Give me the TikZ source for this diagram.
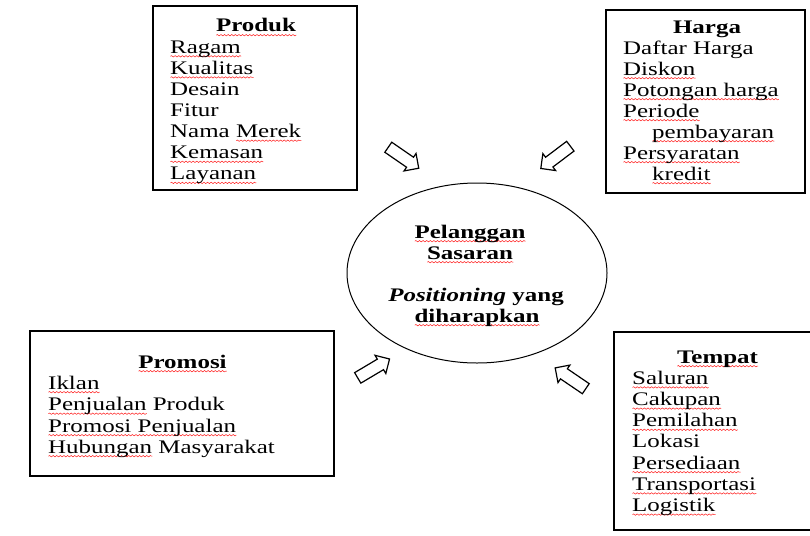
\documentclass[tikz,border=0pt]{standalone}
\usepackage{fontspec}
\setmainfont{Liberation Serif}[FakeStretch=1.3]
\usetikzlibrary{shapes.geometric,shapes.arrows,decorations.pathmorphing}
\newsavebox\sqbox
\newlength\sqlen
\newcommand\sq[1]{\sbox\sqbox{#1}\setlength\sqlen{\wd\sqbox}%
  \rlap{\tikz[baseline=0pt]\draw[red!90!white, line width=0.5pt, decorate,
    decoration={snake, amplitude=0.7pt, segment length=3.6pt}] (0pt,-3.2pt) -- (\sqlen,-3.2pt);}%
  \usebox\sqbox}
\tikzset{
  box/.style={draw, line width=1.4pt, inner sep=0pt},
  item/.style={anchor=base west, inner sep=0pt, font=\fontsize{19.2}{21}\selectfont},
  ttl/.style={anchor=base, inner sep=0pt, font=\fontsize{19.2}{21}\selectfont\bfseries},
  barrow/.style={single arrow, draw, line width=1.2pt, minimum height=37pt,
    inner sep=5.5pt, single arrow head extend=4.5pt, single arrow head indent=0pt}
}
\begin{document}
\begin{tikzpicture}[x=1pt,y=-1pt]
\useasboundingbox (0,0) rectangle (810,535);
\fill[white] (0,0) rectangle (810,535);
\clip (0,0) rectangle (810,535);

% boxes
\node[box, minimum width=204pt, minimum height=184pt] (prodbox) at (255,98) {};
\node[box, minimum width=199pt, minimum height=183pt] (hargabox) at (705.5,101.5) {};
\node[box, minimum width=304pt, minimum height=145pt] (promobox) at (182,403.5) {};
\node[box, minimum width=205pt, minimum height=198pt] (tempatbox) at (716.5,431) {};
\node[draw, ellipse, line width=1pt, minimum width=260pt, minimum height=180pt, inner sep=0pt] (target) at (477,273) {};

% Produk
\node[ttl] (prodt) at (256,32) {\sq{Produk}};
\foreach \t [count=\i] in {\sq{Ragam},\sq{Kualitas},Desain,Fitur,Nama \sq{Merek},\sq{Kemasan},\sq{Layanan}}
  \node[item] (pr\i) at (170,{32+21.1*\i}) {\t};

% Harga
\node[ttl] (hargat) at (707,33.5) {Harga};
\node[item] (h1) at (623,54) {Daftar Harga};
\node[item] (h2) at (623,75) {\sq{Diskon}};
\node[item] (h3) at (623,96) {\sq{Potongan harga}};
\node[item] (h4) at (623,117) {\sq{Periode}};
\node[item] (h5) at (652,138) {\sq{pembayaran}};
\node[item] (h6) at (623,159) {\sq{Persyaratan}};
\node[item] (h7) at (652,180) {\sq{kredit}};

% Centre
\node[ttl] (c1) at (470,238) {\sq{Pelanggan}};
\node[ttl] (c2) at (470,259) {\sq{Sasaran}};
\node[ttl] (c3) at (476,301) {\textit{Positioning} yang};
\node[ttl] (c4) at (477,322) {\sq{diharapkan}};

% Promosi
\node[ttl] (promt) at (182.5,368) {\sq{Promosi}};
\node[item] (pm1) at (48,389) {\sq{Iklan}};
\node[item] (pm2) at (48,410.5) {\sq{Penjualan} Produk};
\node[item] (pm3) at (48,432) {\sq{Promosi Penjualan}};
\node[item] (pm4) at (48,453) {\sq{Hubungan} Masyarakat};

% Tempat
\node[ttl] (tempt) at (717.5,363) {\sq{Tempat}};
\foreach \t [count=\i] in {\sq{Saluran},\sq{Cakupan},\sq{Pemilahan},Lokasi,\sq{Persediaan},\sq{Transportasi},\sq{Logistik}}
  \node[item] (tp\i) at (632,{363+21.2*\i}) {\t};

% block arrows
\node[barrow, rotate=-34.6] (a1) at (401,156) {};
\node[barrow, rotate=-143] (a2) at (558,155.5) {};
\node[barrow, rotate=30.7] (a3) at (371,370) {};
\node[barrow, rotate=145.8] (a4) at (573,380) {};
\end{tikzpicture}
\end{document}
